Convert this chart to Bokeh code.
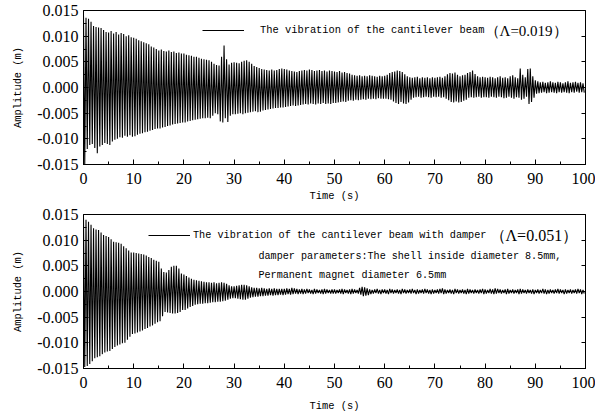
from bokeh.plotting import figure
from bokeh.models import (Label, Legend, LegendItem, LinearAxis, FixedTicker,
                          NumeralTickFormatter, Range1d, CustomJSTickFormatter)
from bokeh.layouts import column
from bokeh.embed import file_html
from bokeh.resources import INLINE

# ---------------- data (amplitudes in units of 1e-4 m) ----------------
# Peak values: one positive and one negative peak per 0.5 s.
PERIOD = 0.5

TOP_PEAK_HI = [
    140, 136, 134, 128, 120, 118, 117, 116, 112, 108, 107, 110, 105, 108, 103, 106, 104, 100, 102, 98,
    97, 95, 92, 90, 88, 86, 84, 80, 78, 75, 72, 74, 71, 70, 72, 69, 70, 67, 68, 66,
    66, 64, 63, 62, 60, 60, 58, 56, 55, 54, 53, 50, 46, 44, 43, 60, 82, 55, 45, 48,
    49, 48, 47, 50, 52, 53, 50, 46, 42, 40, 38, 36, 35, 34, 33, 35, 33, 34, 36, 37,
    36, 35, 33, 32, 31, 30, 32, 33, 34, 33, 35, 34, 32, 33, 34, 32, 33, 31, 33, 32,
    31, 30, 32, 29, 30, 28, 27, 25, 24, 23, 24, 22, 23, 22, 24, 23, 22, 21, 23, 22,
    23, 25, 28, 30, 31, 33, 32, 30, 26, 22, 20, 19, 20, 21, 18, 20, 19, 20, 18, 20,
    19, 20, 21, 19, 22, 26, 28, 27, 29, 25, 22, 24, 25, 28, 30, 33, 26, 22, 20, 21,
    20, 19, 21, 20, 18, 20, 22, 19, 20, 18, 22, 24, 20, 18, 37, 25, 20, 36, 37, 22,
    14, 12, 10, 11, 9, 10, 12, 10, 9, 11, 10, 8, 10, 12, 9, 10, 11, 9, 10, 8,
]
TOP_PEAK_LO = [
    -150, -120, -112, -110, -118, -128, -115, -112, -108, -110, -112, -105, -102, -100, -97, -98, -94, -96, -93, -96,
    -95, -92, -90, -89, -87, -86, -84, -83, -81, -80, -80, -78, -77, -75, -74, -72, -71, -70, -69, -68,
    -68, -66, -65, -64, -63, -62, -61, -60, -60, -59, -60, -55, -50, -52, -66, -68, -60, -67, -55, -52,
    -52, -51, -50, -52, -50, -49, -48, -47, -46, -48, -47, -45, -44, -43, -42, -41, -40, -40, -39, -39,
    -38, -37, -36, -35, -36, -35, -34, -33, -32, -33, -31, -32, -33, -31, -32, -30, -32, -31, -32, -30,
    -30, -29, -28, -27, -28, -26, -25, -26, -24, -25, -24, -23, -24, -22, -23, -22, -23, -21, -22, -22,
    -22, -23, -24, -27, -30, -32, -28, -31, -32, -29, -24, -20, -19, -18, -20, -19, -18, -19, -20, -18,
    -19, -18, -20, -19, -22, -25, -28, -29, -27, -29, -28, -26, -24, -20, -19, -20, -19, -18, -20, -19,
    -19, -20, -18, -19, -20, -18, -19, -21, -20, -18, -20, -22, -19, -20, -24, -22, -18, -32, -28, -20,
    -12, -11, -10, -9, -11, -10, -9, -10, -11, -9, -10, -9, -10, -11, -9, -10, -8, -10, -9, -10,
]
BOT_PEAK_HI = [
    143, 140, 136, 130, 123, 121, 120, 115, 110, 108, 106, 102, 97, 96, 95, 93, 88, 84, 80, 76,
    76, 75, 74, 73, 72, 70, 67, 65, 62, 60, 58, 45, 38, 37, 42, 48, 50, 50, 45, 35,
    33, 30, 27, 25, 23, 22, 21, 20, 19, 18, 18, 17, 18, 16, 17, 18, 17, 15, 12, 10,
    10, 11, 12, 13, 13, 12, 10, 8, 7, 7, 6, 7, 6, 5, 6, 5, 6, 5, 5, 5,
    5, 6, 5, 7, 6, 5, 4, 5, 4, 5, 4, 3, 5, 4, 3, 4, 5, 4, 3, 4,
    4, 3, 4, 5, 4, 3, 4, 5, 4, 3, 7, 9, 8, 6, 4, 3, 4, 5, 3, 4,
    4, 3, 5, 4, 3, 4, 3, 5, 4, 3, 4, 5, 3, 4, 3, 4, 5, 4, 3, 4,
    3, 4, 5, 6, 4, 3, 4, 3, 5, 4, 3, 4, 3, 5, 4, 3, 4, 3, 4, 5,
    4, 3, 5, 4, 6, 5, 4, 3, 4, 5, 3, 4, 3, 4, 5, 4, 3, 4, 3, 4,
    3, 4, 3, 5, 4, 3, 4, 3, 4, 5, 4, 3, 4, 3, 4, 3, 4, 5, 4, 3,
]
BOT_PEAK_LO = [
    -147, -145, -141, -136, -130, -128, -126, -122, -119, -117, -116, -112, -108, -105, -103, -101, -100, -94, -88, -83,
    -82, -80, -78, -76, -73, -71, -68, -66, -63, -60, -58, -48, -40, -41, -42, -43, -43, -42, -40, -36,
    -36, -33, -30, -28, -26, -25, -24, -24, -23, -23, -22, -21, -21, -20, -20, -19, -18, -16, -14, -13,
    -13, -14, -15, -16, -16, -14, -12, -11, -10, -10, -9, -9, -8, -8, -7, -8, -7, -7, -6, -7,
    -6, -5, -6, -5, -4, -5, -4, -5, -4, -3, -4, -5, -4, -3, -4, -5, -4, -3, -4, -4,
    -4, -3, -4, -5, -3, -4, -5, -4, -3, -4, -6, -9, -8, -7, -5, -4, -3, -4, -5, -3,
    -4, -5, -3, -4, -3, -4, -5, -3, -4, -3, -4, -3, -5, -4, -3, -4, -3, -4, -5, -4,
    -3, -4, -3, -5, -4, -3, -4, -5, -3, -4, -3, -4, -5, -4, -3, -4, -3, -4, -3, -5,
    -4, -3, -4, -5, -4, -3, -4, -3, -5, -4, -3, -4, -3, -5, -4, -3, -4, -3, -4, -5,
    -3, -4, -3, -4, -5, -4, -3, -4, -3, -4, -3, -5, -4, -3, -4, -3, -4, -3, -5, -4,
]
UNIT = 1e-4

X_TICKS = [0, 10, 20, 30, 40, 50, 60, 70, 80, 90, 100]
X_MINOR = [5, 15, 25, 35, 45, 55, 65, 75, 85, 95]
Y_TICKS = [-0.015, -0.010, -0.005, 0.000, 0.005, 0.010, 0.015]
Y_MINOR = [-0.0125, -0.0075, -0.0025, 0.0025, 0.0075, 0.0125]

TOP_LEGEND = "The vibration of the cantilever beam"
TOP_LAMBDA = "（Λ=0.019）"
BOT_LEGEND = "The vibration of the cantilever beam with damper"
BOT_LAMBDA = "（Λ=0.051）"
BOT_NOTE1 = "damper parameters:The shell inside diameter 8.5mm,"
BOT_NOTE2 = "Permanent magnet diameter 6.5mm"
X_LABEL = "Time (s)"
Y_LABEL = "Amplitude (m)"

MONO = "Liberation Mono"
SERIF = "Liberation Serif"


def series(hi, lo):
    xs, ys = [], []
    for k, (a, b) in enumerate(zip(hi, lo)):
        xs.append(k * PERIOD)
        ys.append(a * UNIT)
        xs.append(k * PERIOD + PERIOD / 2)
        ys.append(b * UNIT)
    return xs, ys


def panel(hi, lo, border_top, border_bottom, xlabel_standoff):
    p = figure(frame_width=502, frame_height=154,
               min_border_left=83, min_border_right=10,
               min_border_top=border_top, min_border_bottom=border_bottom,
               x_range=Range1d(0, 100), y_range=Range1d(-0.015, 0.015),
               toolbar_location=None, output_backend="svg")
    p.xgrid.visible = False
    p.ygrid.visible = False
    p.outline_line_color = "black"
    p.outline_line_width = 1
    p.background_fill_color = "white"
    p.border_fill_color = "white"

    xs, ys = series(hi, lo)
    r = p.line(xs, ys, line_color="black", line_width=1.1)

    p.xaxis.ticker = FixedTicker(ticks=X_TICKS, minor_ticks=X_MINOR)
    p.yaxis.ticker = FixedTicker(ticks=Y_TICKS, minor_ticks=Y_MINOR)
    p.yaxis.formatter = NumeralTickFormatter(format="0.000")
    for ax in (p.xaxis[0], p.yaxis[0]):
        ax.major_tick_in = 5
        ax.major_tick_out = 0
        ax.minor_tick_in = 3
        ax.minor_tick_out = 0
        ax.axis_line_color = "black"
        ax.major_tick_line_color = "black"
        ax.minor_tick_line_color = "black"
        ax.major_label_text_font = SERIF
        ax.major_label_text_font_size = "16px"
        ax.major_label_text_color = "black"
        ax.axis_label_text_font = MONO
        ax.axis_label_text_font_size = "10.4px"
        ax.axis_label_text_font_style = "normal"
        ax.axis_label_text_color = "black"
    p.xaxis.major_label_standoff = 8
    p.yaxis.major_label_standoff = 5
    p.xaxis.axis_label = X_LABEL
    p.yaxis.axis_label = Y_LABEL
    p.xaxis.axis_label_standoff = xlabel_standoff
    p.yaxis.axis_label_standoff = 10

    rax = LinearAxis(ticker=FixedTicker(ticks=Y_TICKS, minor_ticks=[]), major_tick_in=4,
                     major_tick_out=0, minor_tick_in=0, minor_tick_out=0,
                     formatter=CustomJSTickFormatter(code="return ''"),
                     major_label_standoff=0, axis_line_color="black")
    p.add_layout(rax, "right")
    return p, r


def legend(p, r, text, loc, standoff, size):
    leg = Legend(items=[LegendItem(label=text, renderers=[r])], location=loc,
                 glyph_width=42, glyph_height=12, label_height=12, label_standoff=standoff,
                 padding=0, margin=0, spacing=0, border_line_color=None,
                 background_fill_alpha=0, label_text_font=MONO,
                 label_text_font_size=size, label_text_color="black")
    p.add_layout(leg)


top, rt = panel(TOP_PEAK_HI, TOP_PEAK_LO, 10, 38, 3)
legend(top, rt, TOP_LEGEND, (119, 128), 16, "10.4px")
top.add_layout(Label(x=401, y=134, x_units="screen", y_units="screen", text=TOP_LAMBDA,
                     text_align="left", text_baseline="middle", text_font=SERIF,
                     text_font_size="15px", text_color="black"))

bot, rb = panel(BOT_PEAK_HI, BOT_PEAK_LO, 10, 50, 9)
legend(bot, rb, BOT_LEGEND, (65, 127), 3, "10.2px")
bot.add_layout(Label(x=406, y=133, x_units="screen", y_units="screen", text=BOT_LAMBDA,
                     text_align="left", text_baseline="middle", text_font=SERIF,
                     text_font_size="16px", text_color="black"))
bot.add_layout(Label(x=175, y=112, x_units="screen", y_units="screen", text=BOT_NOTE1,
                     text_align="left", text_baseline="middle", text_font=MONO,
                     text_font_size="10.1px", text_color="black"))
bot.add_layout(Label(x=175, y=93, x_units="screen", y_units="screen", text=BOT_NOTE2,
                     text_align="left", text_baseline="middle", text_font=MONO,
                     text_font_size="10.1px", text_color="black"))

layout = column(top, bot, spacing=0)
open("out.html", "w").write(file_html(layout, INLINE))
